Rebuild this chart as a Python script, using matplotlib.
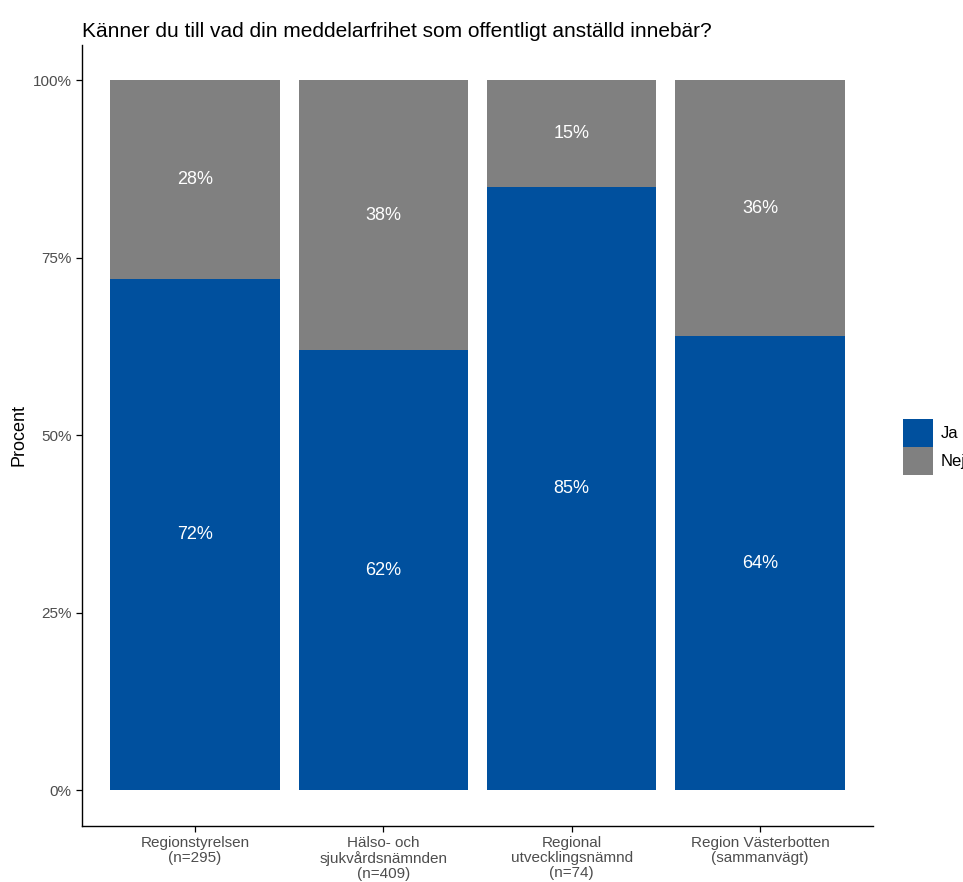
import matplotlib.pyplot as plt
import numpy as np

plt.rcParams['font.family'] = ['Liberation Sans', 'DejaVu Sans']

# Data
categories = ["Regionstyrelsen\n(n=295)", "Hälso- och\nsjukvårdsnämnden\n(n=409)",
              "Regional\nutvecklingsnämnd\n(n=74)", "Region Västerbotten\n(sammanvägt)"]
ja = [72, 62, 85, 64]
nej = [28, 38, 15, 36]
series_names = ["Ja", "Nej"]
colors = ["#00509E", "#808080"]

fig = plt.figure(figsize=(9.63, 8.82), dpi=100)
ax = fig.add_axes([0.0852, 0.0635, 0.8213, 0.8855])

x = np.arange(1, len(categories) + 1)
ja_frac = np.array(ja) / 100
nej_frac = np.array(nej) / 100
b1 = ax.bar(x, ja_frac, width=0.9, color=colors[0], label=series_names[0])
b2 = ax.bar(x, nej_frac, width=0.9, bottom=ja_frac, color=colors[1], label=series_names[1])

# labels in the middle of each segment
for xi, j, n in zip(x, ja_frac, nej_frac):
    ax.text(xi, j / 2, f"{int(round(j * 100))}%", ha="center", va="center",
            color="white", fontsize=13)
    ax.text(xi, j + n / 2, f"{int(round(n * 100))}%", ha="center", va="center",
            color="white", fontsize=13)

ax.set_xlim(0.4, 4.6)
ax.set_ylim(-0.05, 1.05)
ax.set_yticks([0, 0.25, 0.5, 0.75, 1.0])
ax.set_yticklabels(["0%", "25%", "50%", "75%", "100%"])
ax.set_xticks(x)
ax.set_xticklabels(categories, linespacing=1.05)
ax.tick_params(axis="both", colors="black", labelcolor="#4D4D4D", labelsize=11,
               length=4, width=0.9)

for side in ["top", "right"]:
    ax.spines[side].set_visible(False)
for side in ["left", "bottom"]:
    ax.spines[side].set_linewidth(1.0)

ax.set_ylabel("Procent", fontsize=13, labelpad=4)
ax.set_title("Känner du till vad din meddelarfrihet som offentligt anställd innebär?",
             loc="left", fontsize=15, pad=6)

leg = ax.legend(handles=[b1, b2], loc="center left", bbox_to_anchor=(1.03, 0.485),
                frameon=False, fontsize=12, handlelength=1.75, handleheight=2.2,
                handletextpad=0.5, labelspacing=0.0, borderaxespad=0)

fig.savefig("out.png", dpi=100)
